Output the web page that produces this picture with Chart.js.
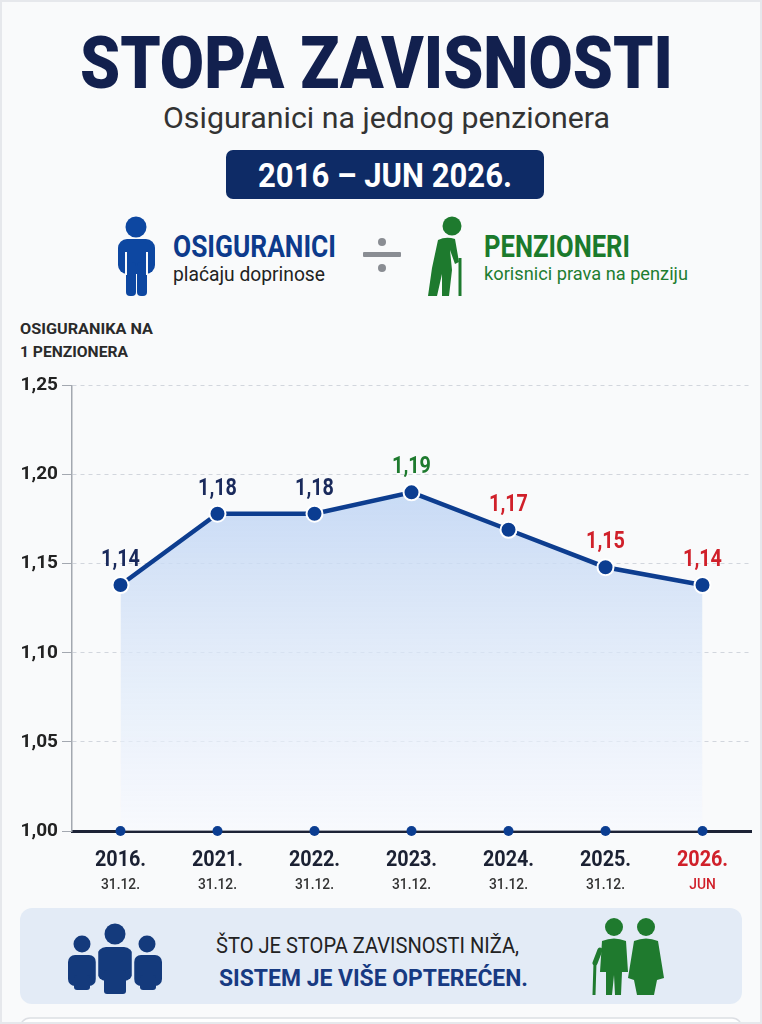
<!DOCTYPE html>
<html>
<head>
<meta charset="utf-8">
<script src="https://cdn.jsdelivr.net/npm/chart.js@4.4.1/dist/chart.umd.min.js"></script>
<style>
  html, body { margin: 0; padding: 0; }
  body { width: 762px; height: 1024px; background: #f9fafb; position: relative; overflow: hidden; font-family: Roboto, sans-serif; }
  #deco { position: absolute; left: 0; top: 0; }
  #wrap { position: absolute; left: 0; top: 370px; width: 762px; height: 530px; }
  .frame { position: absolute; inset: 0; border: 2px solid #e6e8ec; box-sizing: border-box; pointer-events: none; }
</style>
</head>
<body>
<svg id="deco" width="762" height="1024" viewBox="0 0 762 1024" font-family="Roboto, sans-serif">
  <!-- header -->
  <text x="80" y="88" font-size="73" font-weight="900" fill="#12204e" textLength="593" lengthAdjust="spacingAndGlyphs">STOPA ZAVISNOSTI</text>
  <text x="163" y="128" font-size="30" fill="#333" textLength="447" lengthAdjust="spacingAndGlyphs">Osiguranici na jednog penzionera</text>
  <rect x="226" y="150" width="318" height="49" rx="7" fill="#0e2b66"/>
  <text x="258" y="187" font-size="33" font-weight="700" fill="#fff" textLength="254" lengthAdjust="spacingAndGlyphs">2016 – JUN 2026.</text>

  <!-- blue person -->
  <g fill="#0d47a1">
    <circle cx="136" cy="227" r="10.5"/>
    <rect x="118" y="239" width="37" height="35" rx="9"/>
    <rect x="126" y="262" width="10" height="34" rx="4"/>
    <rect x="137" y="262" width="10" height="34" rx="4"/>
  </g>
  <g stroke="#f9fafb" stroke-width="2">
    <line x1="126" y1="252" x2="126" y2="275"/>
    <line x1="147" y1="252" x2="147" y2="275"/>
  </g>
  <text x="173" y="257" font-size="32" font-weight="700" fill="#0d3b8c" textLength="163" lengthAdjust="spacingAndGlyphs">OSIGURANICI</text>
  <text x="173" y="281" font-size="20" fill="#222" textLength="152" lengthAdjust="spacingAndGlyphs">plaćaju doprinose</text>

  <!-- divide -->
  <g fill="#8a8d93">
    <circle cx="382" cy="242" r="4"/>
    <rect x="363" y="252" width="38" height="5" rx="1"/>
    <circle cx="382" cy="268" r="4"/>
  </g>

  <!-- elderly person -->
  <g fill="#1e7a2e">
    <circle cx="452" cy="226" r="9.5"/>
    <path d="M438 240 Q446 236 455 239 L459 262 L455 264 L450 250 L452 270 L449 296 L442 296 L442 274 L437 296 L428 296 L432 268 Z"/>
  </g>
  <line x1="460" y1="258" x2="460" y2="296" stroke="#1e7a2e" stroke-width="3"/>
  <text x="484" y="257" font-size="32" font-weight="700" fill="#1b7a2c" textLength="146" lengthAdjust="spacingAndGlyphs">PENZIONERI</text>
  <text x="484" y="280" font-size="18" fill="#1e7d31" textLength="204" lengthAdjust="spacingAndGlyphs">korisnici prava na penziju</text>

  <!-- y axis title -->
  <text x="20" y="334" font-size="15" font-weight="700" fill="#2a2a2a" textLength="133" lengthAdjust="spacingAndGlyphs">OSIGURANIKA NA</text>
  <text x="20" y="357" font-size="15" font-weight="700" fill="#2a2a2a" textLength="108" lengthAdjust="spacingAndGlyphs">1 PENZIONERA</text>

  <!-- bottom panel -->
  <rect x="20" y="908" width="722" height="96" rx="12" fill="#e3ebf6"/>
  <g fill="#143a7c">
    <circle cx="82" cy="944" r="8.5"/>
    <rect x="68" y="955" width="28" height="31" rx="7"/>
    <rect x="74" y="975" width="16" height="15" rx="3"/>
    <circle cx="147" cy="944" r="8.5"/>
    <rect x="134" y="955" width="28" height="31" rx="7"/>
    <rect x="140" y="975" width="16" height="15" rx="3"/>
    <circle cx="115" cy="934" r="10.5"/>
    <rect x="97" y="947" width="36" height="34" rx="9"/>
    <rect x="104" y="970" width="22" height="24" rx="3"/>
  </g>
  <g stroke="#e3ebf6" stroke-width="2.5">
    <line x1="97" y1="952" x2="97" y2="990"/>
    <line x1="133" y1="952" x2="133" y2="990"/>
  </g>
  <text x="216" y="953" font-size="22" fill="#222" textLength="303" lengthAdjust="spacingAndGlyphs">ŠTO JE STOPA ZAVISNOSTI NIŽA,</text>
  <text x="219" y="986" font-size="24" font-weight="700" fill="#173a82" textLength="309" lengthAdjust="spacingAndGlyphs">SISTEM JE VIŠE OPTEREĆEN.</text>
  <g fill="#1f7a2e">
    <circle cx="614" cy="927" r="9"/>
    <path d="M602 941 Q614 936 626 941 L628 972 L622 972 L621 995 L615 995 L614 975 L612 995 L606 995 L606 972 L600 972 Z"/>
    <circle cx="646" cy="927" r="9"/>
    <path d="M634 941 Q646 936 658 941 L664 978 L657 980 L654 995 L637 995 L634 980 L628 978 Z"/>
  </g>
  <line x1="595" y1="962" x2="594" y2="995" stroke="#1f7a2e" stroke-width="3"/>
  <path d="M600 950 L595 963" stroke="#1f7a2e" stroke-width="5" stroke-linecap="round"/>

  <!-- next box -->
  <rect x="20" y="1018" width="722" height="30" rx="10" fill="#fff" stroke="#dcdfe4" stroke-width="1.5"/>
</svg>

<div id="wrap"><canvas id="ratioChart" width="762" height="530"></canvas></div>
<div class="frame"></div>

<script>
const years = ['2016.', '2021.', '2022.', '2023.', '2024.', '2025.', '2026.'];
const dates = ['31.12.', '31.12.', '31.12.', '31.12.', '31.12.', '31.12.', 'JUN'];
const ratios = [1.138, 1.178, 1.178, 1.190, 1.169, 1.148, 1.138];
const baseline = [1.00, 1.00, 1.00, 1.00, 1.00, 1.00, 1.00];
const yMin = 1.00, yMax = 1.25, yStep = 0.05;

const NAVY = '#1a2a5c', GREEN = '#1e7a2e', RED = '#d0202a';
const valueColors = [NAVY, NAVY, NAVY, GREEN, RED, RED, RED];
const yearColors = ['#1b2133', '#1b2133', '#1b2133', '#1b2133', '#1b2133', '#1b2133', RED];
const dateColors = ['#333', '#333', '#333', '#333', '#333', '#333', RED];

const fmt = v => v.toFixed(2).replace('.', ',');

function squeezed(ctx, text, x, y, sx) {
  ctx.save();
  ctx.translate(x, y);
  ctx.scale(sx, 1);
  ctx.fillText(text, 0, 0);
  ctx.restore();
}

const labelPlugin = {
  id: 'labels',
  afterDatasetsDraw(chart) {
    const ctx = chart.ctx;
    const xs = chart.scales.x;
    const pts = chart.getDatasetMeta(0).data;
    ctx.save();
    ctx.textAlign = 'center';
    ctx.textBaseline = 'alphabetic';
    ctx.font = 'bold 23px Roboto';
    pts.forEach((p, i) => {
      ctx.fillStyle = valueColors[i];
      squeezed(ctx, fmt(ratios[i]), p.x, p.y - 19, 0.86);
    });
    const bottom = chart.chartArea.bottom;
    years.forEach((y, i) => {
      const x = xs.getPixelForValue(i);
      ctx.font = 'bold 22px Roboto';
      ctx.fillStyle = yearColors[i];
      squeezed(ctx, y, x, bottom + 35, 0.9);
      ctx.font = '500 15px Roboto';
      ctx.fillStyle = dateColors[i];
      squeezed(ctx, dates[i], x, bottom + 58, 0.92);
    });
    ctx.restore();
  }
};

new Chart(document.getElementById('ratioChart'), {
  type: 'line',
  data: {
    labels: years,
    datasets: [
      {
        data: ratios,
        order: 1,
        borderColor: '#0d3d8f',
        borderWidth: 4.5,
        pointRadius: 8,
        pointBackgroundColor: '#0b3d91',
        pointBorderColor: '#ffffff',
        pointBorderWidth: 2,
        tension: 0,
        fill: 'start',
        clip: false,
        backgroundColor: (c) => {
          const a = c.chart.chartArea;
          if (!a) return 'rgba(0,0,0,0)';
          const g = c.chart.ctx.createLinearGradient(0, a.top + 100, 0, a.bottom);
          g.addColorStop(0, 'rgba(190,212,243,0.85)');
          g.addColorStop(1, 'rgba(246,249,254,0.6)');
          return g;
        }
      },
      {
        data: baseline,
        order: 0,
        showLine: false,
        pointRadius: 5,
        pointBackgroundColor: '#0b3d91',
        pointBorderWidth: 0,
        clip: false,
        fill: false
      }
    ]
  },
  options: {
    responsive: false,
    animation: false,
    events: [],
    layout: { padding: { top: 13, right: 11, left: 0, bottom: 0 } },
    plugins: { legend: { display: false }, tooltip: { enabled: false } },
    scales: {
      x: {
        offset: true,
        grid: { display: false },
        ticks: { display: false },
        border: { color: '#1d2336', width: 3 },
        afterFit: s => { s.height = 69; }
      },
      y: {
        min: yMin,
        max: yMax,
        ticks: {
          stepSize: yStep,
          padding: 4,
          color: '#222',
          font: { family: 'Roboto', size: 19, weight: 'bold' },
          callback: v => fmt(v)
        },
        grid: { color: '#d2d6dd', tickLength: 10, tickColor: '#a3a8b0' },
        border: { color: '#a3a8b0', width: 1.5, dash: [4, 4] },
        afterFit: s => { s.width = 72; }
      }
    }
  },
  plugins: [labelPlugin]
});
</script>
</body>
</html>
